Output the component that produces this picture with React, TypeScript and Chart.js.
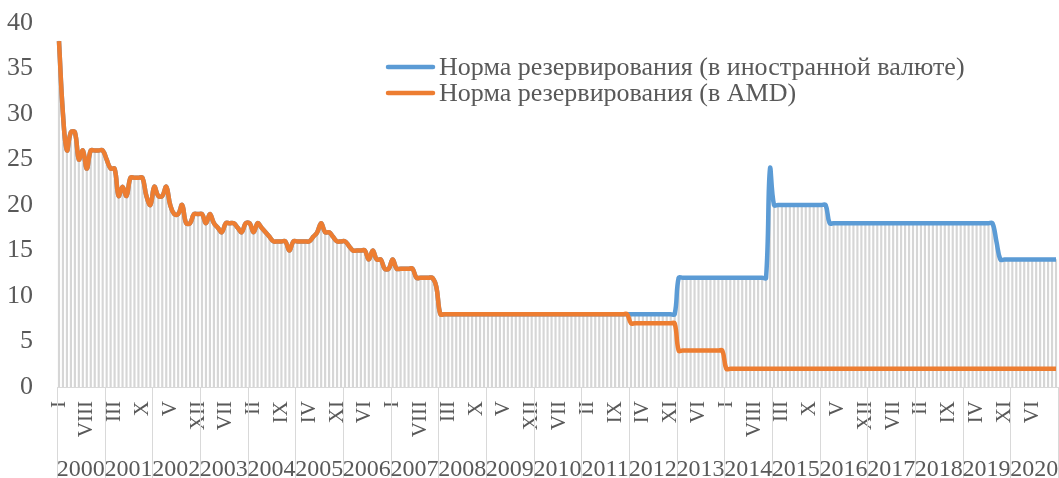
import React, { useEffect, useRef } from 'react';
import { Chart, registerables } from 'chart.js';

Chart.register(...registerables);

const YEARS = ['2000', '2001', '2002', '2003', '2004', '2005', '2006', '2007', '2008', '2009', '2010',
  '2011', '2012', '2013', '2014', '2015', '2016', '2017', '2018', '2019', '2020'];
const MONTHS = ['I', 'II', 'III', 'IV', 'V', 'VI', 'VII', 'VIII', 'IX', 'X', 'XI', 'XII'];

// Reserve requirement, foreign currency (monthly, 2000-2020)
const FOREIGN_RATE = [
  38, 30, 26, 28, 28, 25, 26, 24, 26, 26, 26, 26,
  25, 24, 24, 21, 22, 21, 23, 23, 23, 23, 21, 20,
  22, 21, 21, 22, 20, 19, 19, 20, 18, 18, 19, 19,
  19, 18, 19, 18, 17.5, 17, 18, 18, 18, 17.5, 17, 18,
  18, 17, 18, 17.5, 17, 16.5, 16, 16, 16, 16, 15, 16,
  16, 16, 16, 16, 16.5, 17, 18, 17, 17, 16.5, 16, 16,
  16, 15.5, 15, 15, 15, 15, 14, 15, 14, 14, 13, 13,
  14, 13, 13, 13, 13, 13, 12, 12, 12, 12, 12, 11,
  8, 8, 8, 8, 8, 8, 8, 8, 8, 8, 8, 8,
  8, 8, 8, 8, 8, 8, 8, 8, 8, 8, 8, 8,
  8, 8, 8, 8, 8, 8, 8, 8, 8, 8, 8, 8,
  8, 8, 8, 8, 8, 8, 8, 8, 8, 8, 8, 8,
  8, 8, 8, 8, 8, 8, 8, 8, 8, 8, 8, 8,
  12, 12, 12, 12, 12, 12, 12, 12, 12, 12, 12, 12,
  12, 12, 12, 12, 12, 12, 12, 12, 12, 12, 12, 24,
  20, 20, 20, 20, 20, 20, 20, 20, 20, 20, 20, 20,
  20, 20, 18, 18, 18, 18, 18, 18, 18, 18, 18, 18,
  18, 18, 18, 18, 18, 18, 18, 18, 18, 18, 18, 18,
  18, 18, 18, 18, 18, 18, 18, 18, 18, 18, 18, 18,
  18, 18, 18, 18, 18, 18, 18, 18, 16, 14, 14, 14,
  14, 14, 14, 14, 14, 14, 14, 14, 14, 14, 14, 14,
];

// Reserve requirement, AMD (monthly, 2000-2020)
const AMD_RATE = [
  38, 30, 26, 28, 28, 25, 26, 24, 26, 26, 26, 26,
  25, 24, 24, 21, 22, 21, 23, 23, 23, 23, 21, 20,
  22, 21, 21, 22, 20, 19, 19, 20, 18, 18, 19, 19,
  19, 18, 19, 18, 17.5, 17, 18, 18, 18, 17.5, 17, 18,
  18, 17, 18, 17.5, 17, 16.5, 16, 16, 16, 16, 15, 16,
  16, 16, 16, 16, 16.5, 17, 18, 17, 17, 16.5, 16, 16,
  16, 15.5, 15, 15, 15, 15, 14, 15, 14, 14, 13, 13,
  14, 13, 13, 13, 13, 13, 12, 12, 12, 12, 12, 11,
  8, 8, 8, 8, 8, 8, 8, 8, 8, 8, 8, 8,
  8, 8, 8, 8, 8, 8, 8, 8, 8, 8, 8, 8,
  8, 8, 8, 8, 8, 8, 8, 8, 8, 8, 8, 8,
  8, 8, 8, 8, 8, 8, 8, 8, 8, 8, 8, 8,
  7, 7, 7, 7, 7, 7, 7, 7, 7, 7, 7, 7,
  4, 4, 4, 4, 4, 4, 4, 4, 4, 4, 4, 4,
  2, 2, 2, 2, 2, 2, 2, 2, 2, 2, 2, 2,
  2, 2, 2, 2, 2, 2, 2, 2, 2, 2, 2, 2,
  2, 2, 2, 2, 2, 2, 2, 2, 2, 2, 2, 2,
  2, 2, 2, 2, 2, 2, 2, 2, 2, 2, 2, 2,
  2, 2, 2, 2, 2, 2, 2, 2, 2, 2, 2, 2,
  2, 2, 2, 2, 2, 2, 2, 2, 2, 2, 2, 2,
  2, 2, 2, 2, 2, 2, 2, 2, 2, 2, 2, 2,
];

const SERIES_LABELS = [
  'Норма резервирования (в иностранной валюте)',
  'Норма резервирования (в AMD)',
];
const SERIES_COLORS = ['#5b9bd5', '#ed7d31'];
const MONTH_LABEL_STEP = 7;

const FONT = "'Times New Roman', 'Liberation Serif', serif";
const TEXT = '#595959';
const RULE = '#d9d9d9';

const CATEGORIES = YEARS.flatMap((y) => MONTHS.map((m) => `${m} ${y}`));
const DROP = FOREIGN_RATE.map((v, i) => Math.max(v, AMD_RATE[i]));

const yearAxisPlugin = {
  id: 'yearAxis',
  afterDraw(chart: any) {
    const ctx = chart.ctx;
    const xs = chart.scales.x;
    const n = CATEGORIES.length;
    const half = (xs.getPixelForValue(1) - xs.getPixelForValue(0)) / 2;
    const top = xs.top;
    const bottom = chart.height;
    ctx.save();
    ctx.strokeStyle = RULE;
    ctx.lineWidth = 1;
    const bounds: number[] = [];
    for (let k = 0; k <= YEARS.length; k++) {
      const idx = k * 12;
      const px = idx < n ? xs.getPixelForValue(idx) - half : xs.getPixelForValue(n - 1) + half;
      bounds.push(px);
      const bx = Math.min(Math.round(px) + 0.5, chart.width - 0.5);
      ctx.beginPath();
      ctx.moveTo(bx, top);
      ctx.lineTo(bx, bottom);
      ctx.stroke();
    }
    ctx.fillStyle = TEXT;
    ctx.font = `24px ${FONT}`;
    ctx.textAlign = 'center';
    ctx.textBaseline = 'alphabetic';
    YEARS.forEach((y, k) => {
      ctx.fillText(y, (bounds[k] + bounds[k + 1]) / 2, 476);
    });

    // legend
    ctx.font = `26px ${FONT}`;
    ctx.textAlign = 'left';
    ctx.textBaseline = 'middle';
    SERIES_LABELS.forEach((label, i) => {
      const y = 67 + i * 26;
      ctx.strokeStyle = SERIES_COLORS[i];
      ctx.lineWidth = 4.5;
      ctx.lineCap = 'round';
      ctx.beginPath();
      ctx.moveTo(388, y);
      ctx.lineTo(433, y);
      ctx.stroke();
      ctx.fillStyle = TEXT;
      ctx.fillText(label, 439, y + 1);
    });
    ctx.restore();
  },
};

export default function App() {
  const ref = useRef<HTMLCanvasElement | null>(null);
  useEffect(() => {
    if (!ref.current) return;
    const chart = new Chart(ref.current, {
      type: 'bar',
      data: {
        labels: CATEGORIES,
        datasets: [
          {
            type: 'line',
            label: SERIES_LABELS[1],
            data: AMD_RATE,
            borderColor: SERIES_COLORS[1],
            backgroundColor: SERIES_COLORS[1],
            borderWidth: 4.5,
            pointRadius: 0,
            tension: 0.4,
            order: 1,
          } as any,
          {
            type: 'line',
            label: SERIES_LABELS[0],
            data: FOREIGN_RATE,
            borderColor: SERIES_COLORS[0],
            backgroundColor: SERIES_COLORS[0],
            borderWidth: 4.5,
            pointRadius: 0,
            tension: 0.4,
            order: 2,
          } as any,
          {
            type: 'bar',
            label: 'drop',
            data: DROP,
            backgroundColor: '#d6d6d6',
            barThickness: 1.5,
            order: 3,
          } as any,
        ],
      },
      options: {
        animation: false,
        responsive: false,
        maintainAspectRatio: false,
        layout: { padding: { top: 23, right: 1, left: 0, bottom: 0 } },
        plugins: { legend: { display: false }, tooltip: { enabled: false } },
        scales: {
          x: {
            type: 'category',
            offset: true,
            grid: { display: false, drawTicks: false },
            border: { display: true, color: RULE, width: 1 },
            ticks: {
              autoSkip: false,
              maxRotation: 90,
              minRotation: 90,
              padding: 14,
              color: TEXT,
              font: { family: FONT, size: 21 },
              callback: (_v: any, i: number) => (i % MONTH_LABEL_STEP === 0 ? MONTHS[i % 12] : ''),
            },
            afterFit: (s: any) => { s.height = 91; s.paddingLeft = 0; s.paddingRight = 0; },
          },
          y: {
            min: 0,
            max: 40,
            grid: { display: false, drawTicks: false },
            border: { display: false },
            ticks: { stepSize: 5, padding: 24, color: TEXT, font: { family: FONT, size: 26 } },
            afterFit: (s: any) => { s.width = 57; s.paddingTop = 0; s.paddingBottom = 0; },
          },
        },
      },
      plugins: [yearAxisPlugin],
    });
    return () => chart.destroy();
  }, []);
  return (
    <div style={{ position: 'fixed', left: 0, top: 0, width: 1059, height: 478, background: '#fff' }}>
      <canvas ref={ref} width={1059} height={478} style={{ width: 1059, height: 478, display: 'block' }} />
    </div>
  );
}
